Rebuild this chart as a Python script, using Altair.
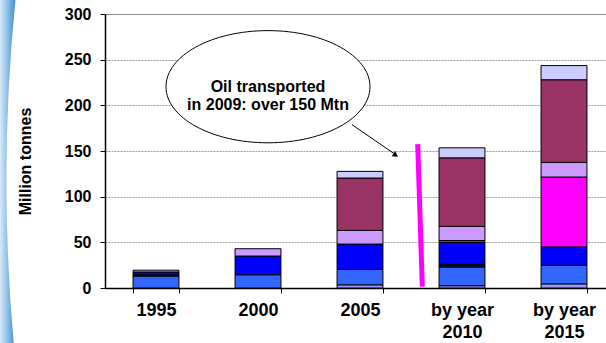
import altair as alt
import pandas as pd

years = ["1995", "2000", "2005", "by year 2010", "by year 2015"]
series = ["Series 1", "Series 2", "Series 3", "Series 4",
          "Series 5", "Series 6", "Series 7", "Series 8"]
colors = ["#9999FF", "#3366FF", "#000066", "#0000FF",
          "#FF00FF", "#CC99FF", "#993366", "#CCCCFF"]

s1 = [0, 0, 3.5, 2.5, 4.5]
s2 = [13, 14.5, 16.8, 20.5, 20.5]
s3 = [1.5, 0, 0, 3, 0]
s4 = [3, 20.5, 27.8, 24, 20]
s5 = [0, 0, 0, 2, 76.5]
s6 = [2, 8, 15, 15.5, 16]
s7 = [0, 0, 57.3, 75, 90.5]
s8 = [0, 0, 7.3, 11, 15.5]
all_series = [s1, s2, s3, s4, s5, s6, s7, s8]

y_ticks = [0, 50, 100, 150, 200, 250, 300]
callout_text = "Oil transported\nin 2009: over 150 Mtn"

rows = []
for i, (name, vals) in enumerate(zip(series, all_series)):
    for yr, v in zip(years, vals):
        if v > 0:
            rows.append({"year": yr, "series": name, "value": v, "idx": i})
df = pd.DataFrame(rows)

FONT = "Liberation Sans"

bars = alt.Chart(df).mark_bar(stroke="black", strokeWidth=1).encode(
    x=alt.X("year:N", sort=years,
            scale=alt.Scale(paddingInner=0.55, paddingOuter=0.275, range=[0, 510]),
            axis=alt.Axis(title=None, labelAngle=0, labelFont=FONT, labelFontSize=18,
                          labelFontWeight="bold", labelColor="black",
                          labelExpr="indexof(datum.label, 'by year') == 0 ? ['by year', slice(datum.label, 8)] : datum.label",
                          labelLineHeight=22, labelPadding=8,
                          tickBand="extent", tickSize=5, tickColor="black",
                          domainColor="black", domainWidth=1.5, grid=False)),
    y=alt.Y("value:Q", stack="zero",
            scale=alt.Scale(domain=[0, 300], nice=False),
            axis=alt.Axis(title="Million tonnes", values=y_ticks, labelFont=FONT,
                          labelFontSize=16, labelFontWeight="bold", labelColor="black",
                          labelPadding=9, tickSize=5, tickColor="black",
                          domainColor="black", domainWidth=1.5,
                          grid=True, gridColor="#999999", gridDash=[2, 1], gridWidth=1,
                          titleFont=FONT, titleFontSize=16, titleFontWeight="bold",
                          titleColor="black", titleAngle=270, titleX=-80, titleY=147,
                          titleAlign="center", titleBaseline="middle")),
    color=alt.Color("series:N", scale=alt.Scale(domain=series, range=colors), legend=None),
    order=alt.Order("idx:Q", sort="ascending"),
)

line_df = pd.DataFrame({"y": [157.5], "y2": [1.5]})
magenta = alt.Chart(line_df).mark_rule(color="#FF00FF", strokeWidth=5).encode(
    y="y:Q", y2="y2:Q", x=alt.value(312.7), x2=alt.value(317.3)
)

ell_df = pd.DataFrame({"y": [220.4], "label": [callout_text]})
ellipse_path = "M -1 0 A 1 0.55 0 1 1 1 0 A 1 0.55 0 1 1 -1 0 Z"
ellipse = alt.Chart(ell_df).mark_point(
    shape=ellipse_path, size=204 * 204, filled=True, fill="white",
    stroke="black", strokeWidth=1, opacity=1
).encode(y="y:Q", x=alt.value(163))
callout = alt.Chart(ell_df).mark_text(
    font=FONT, fontSize=16, fontWeight="bold", color="black",
    align="center", baseline="middle", lineBreak="\n", lineHeight=18
).encode(y="y:Q", x=alt.value(163), text="label:N")

arrow_df = pd.DataFrame({"y": [178.8], "y2": [146.5]})
arrow = alt.Chart(arrow_df).mark_rule(color="black", strokeWidth=1).encode(
    y="y:Q", y2="y2:Q", x=alt.value(247), x2=alt.value(290)
)
head_df = pd.DataFrame({"y": [146.0]})
head = alt.Chart(head_df).mark_point(
    shape="triangle", size=40, filled=True, color="black", opacity=1, angle=125
).encode(y="y:Q", x=alt.value(290))

deco_df = pd.DataFrame({"y": [150.0]})
deco = alt.Chart(deco_df).mark_point(
    shape="M 0 -1 L 0.09 -1 Q -0.01 0 0.08 1 L 0 1 Z",
    size=343 * 343, filled=True, opacity=1, strokeWidth=0,
    fill=alt.Gradient(gradient="linear",
                      stops=[alt.GradientStop(color="#d8eaf8", offset=0),
                             alt.GradientStop(color="#3d8fd0", offset=1)],
                      x1=0, x2=1, y1=0, y2=0)
).encode(y=alt.value(157.5), x=alt.value(-105))

chart = alt.layer(bars, magenta, ellipse, callout, arrow, head, deco).properties(
    width=501, height=274,
    autosize=alt.AutoSizeParams(type="none"),
    padding={"left": 105, "top": 14, "right": 0, "bottom": 55},
    background="white",
).configure_view(stroke="#808080", strokeWidth=1)

chart.save("out.html", embed_options={"renderer": "svg", "actions": False})
